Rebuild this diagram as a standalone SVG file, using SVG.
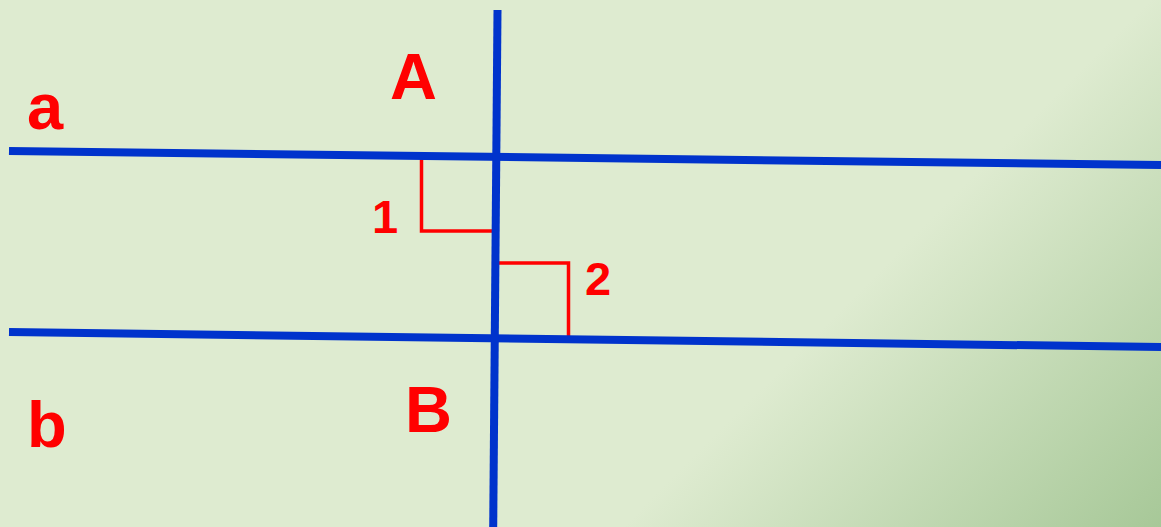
<svg xmlns="http://www.w3.org/2000/svg" width="1161" height="527" viewBox="0 0 1161 527">
  <defs>
    <linearGradient id="bg" gradientUnits="userSpaceOnUse" x1="575" y1="575" x2="844" y2="844">
      <stop offset="0" stop-color="#DEEBD0"/>
      <stop offset="1" stop-color="#A7C898"/>
    </linearGradient>
    <style>
      .line { stroke: #0033CC; stroke-width: 8; fill: none; }
      .mark { stroke: #FF0000; stroke-width: 3.5; fill: none; }
      .lbl { fill: #FF0000; font-family: "Liberation Sans", Arial, sans-serif; font-weight: bold; }
      .big { font-size: 65px; }
      .num { font-size: 47px; }
    </style>
  </defs>
  <rect x="0" y="0" width="1161" height="527" fill="url(#bg)"/>
  <g id="marks">
    <polyline id="angle1" class="mark" points="421.5,155 421.5,231 493,231"/>
    <polyline id="angle2" class="mark" points="493,263 568.5,263 568.5,338"/>
  </g>
  <g id="connectors">
    <line id="line-a" class="line" x1="9" y1="151" x2="1161" y2="165"/>
    <line id="line-b" class="line" x1="9" y1="332" x2="1161" y2="347"/>
    <line id="transversal" class="line" x1="497.5" y1="10" x2="493.2" y2="527"/>
  </g>
  <g id="label-a"><text class="lbl big" x="27" y="129">a</text></g>
  <g id="label-b"><text class="lbl big" x="27" y="447">b</text></g>
  <g id="label-A"><text class="lbl big" x="390" y="99">A</text></g>
  <g id="label-B"><text class="lbl big" x="405" y="432">B</text></g>
  <g id="label-1"><text class="lbl num" x="372" y="233">1</text></g>
  <g id="label-2"><text class="lbl num" x="585" y="295">2</text></g>
</svg>
